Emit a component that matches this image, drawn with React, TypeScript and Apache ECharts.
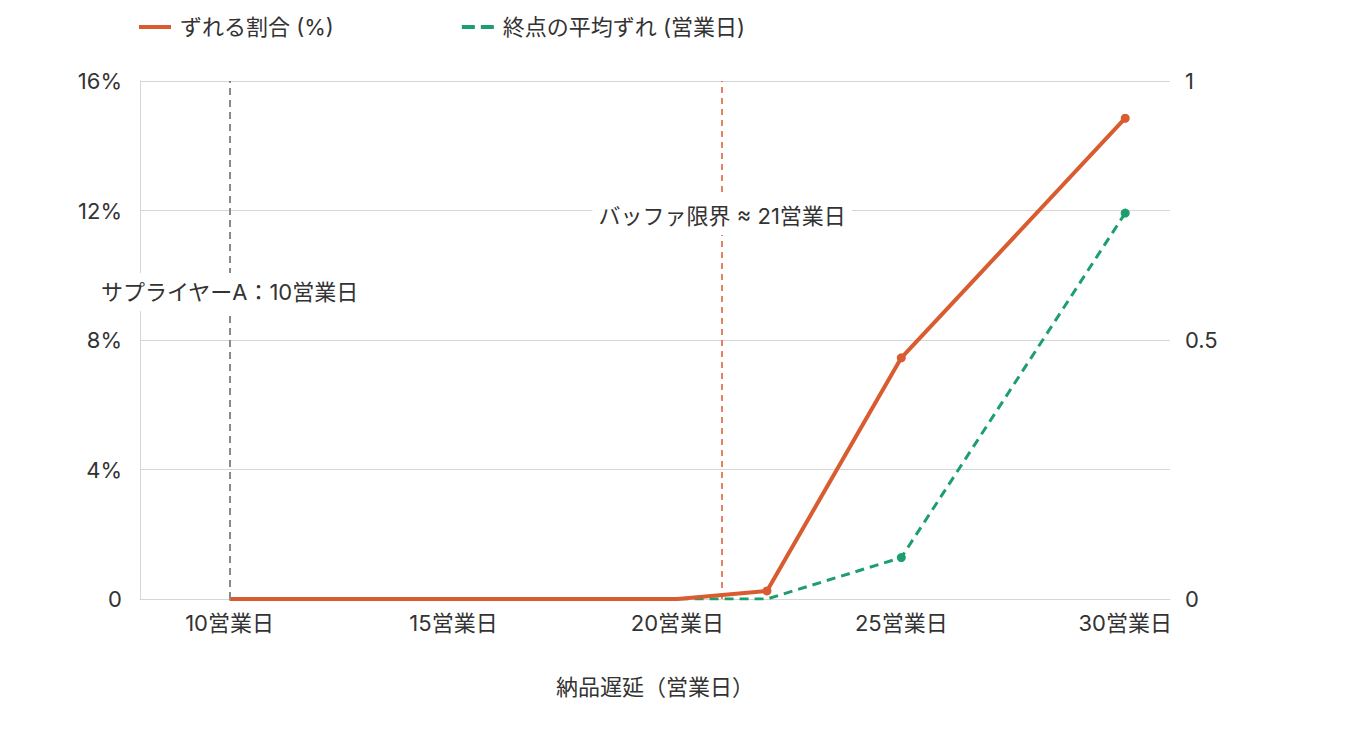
import React, { useEffect, useRef } from 'react';
import * as echarts from 'echarts';

// 納品遅延（営業日）ごとの値
const delayDays = [10, 15, 20, 22, 25, 30];
const slipShare = [0, 0, 0, 0.25, 7.45, 14.85]; // ずれる割合 (%)
const endSlip = [0, 0, 0, 0, 0.08, 0.745]; // 終点の平均ずれ (営業日)

const supplierDay = 10;
const bufferDay = 21;
const supplierLabel = 'サプライヤーA：10営業日';
const bufferLabel = 'バッファ限界 ≈ 21営業日';

const ORANGE = '#d95b30';
const GREEN = '#1c9e6e';
const FONT = 'Inter, "Noto Sans CJK JP", sans-serif';

const App: React.FC = () => {
  const chartRef = useRef<HTMLDivElement>(null);

  useEffect(() => {
    document.body.style.margin = '0';
    if (!chartRef.current) return;
    const chart = echarts.init(chartRef.current, undefined, { renderer: 'svg' });

    const pointSize = (v: number[]) => (v[1] > 0 ? 9 : 0);

    chart.setOption({
      animation: false,
      textStyle: { fontFamily: FONT, color: '#333' },
      legend: {
        left: 134,
        top: 11,
        itemWidth: 32,
        itemHeight: 4,
        itemGap: 128,
        textStyle: { fontSize: 22, color: '#333', padding: [0, 0, 0, 4] },
        data: [
          { name: 'ずれる割合 (%)', icon: 'path://M0,0H32V4H0Z' },
          { name: '終点の平均ずれ (営業日)', icon: 'path://M0,0H13V4H0ZM19,0H32V4H19Z' },
        ],
      },
      grid: { left: 140, right: 190, top: 81, bottom: 133 },
      xAxis: {
        type: 'value',
        min: 8,
        max: 31,
        interval: 1,
        name: '納品遅延（営業日）',
        nameLocation: 'middle',
        nameGap: 77,
        nameTextStyle: { fontSize: 22, color: '#333' },
        axisLine: { show: true, lineStyle: { color: '#d6d6d6' } },
        axisTick: { show: false },
        splitLine: { show: false },
        axisLabel: {
          fontSize: 22,
          color: '#333',
          margin: 13,
          formatter: (v: number) => (v % 5 === 0 ? `${v}営業日` : ''),
        },
      },
      yAxis: [
        {
          type: 'value',
          min: 0,
          max: 16,
          interval: 4,
          axisLine: { show: true, lineStyle: { color: '#d6d6d6' } },
          axisTick: { show: false },
          splitLine: { lineStyle: { color: '#d6d6d6' } },
          axisLabel: {
            fontSize: 22,
            color: '#333',
            margin: 18,
            formatter: (v: number) => (v === 0 ? '0' : `${v}%`),
          },
        },
        {
          type: 'value',
          min: 0,
          max: 1,
          interval: 0.5,
          axisLine: { show: false },
          axisTick: { show: false },
          splitLine: { show: false },
          axisLabel: { fontSize: 22, color: '#333', margin: 15 },
        },
      ],
      series: [
        {
          name: 'ずれる割合 (%)',
          type: 'line',
          yAxisIndex: 0,
          z: 3,
          data: delayDays.map((d, i) => [d, slipShare[i]]),
          symbol: 'circle',
          symbolSize: pointSize,
          lineStyle: { color: ORANGE, width: 4 },
          itemStyle: { color: ORANGE },
          markLine: {
            silent: true,
            symbol: 'none',
            label: { show: false },
            data: [
              { xAxis: supplierDay, lineStyle: { color: '#8a8a8a', type: [7, 5], width: 2 } },
              { xAxis: bufferDay, lineStyle: { color: ORANGE, type: [6, 5], width: 1.5 } },
            ],
          },
          markPoint: {
            silent: true,
            symbol: 'rect',
            symbolSize: 1,
            itemStyle: { color: 'rgba(0,0,0,0)' },
            label: {
              show: true,
              position: 'inside',
              fontSize: 22,
              color: '#333',
              fontFamily: FONT,
              backgroundColor: '#fff',
              padding: [8, 6],
            },
            data: [
              { coord: [supplierDay, 9.48], value: supplierLabel, label: { formatter: supplierLabel } },
              { coord: [bufferDay, 11.83], value: bufferLabel, label: { formatter: bufferLabel } },
            ],
          },
        },
        {
          name: '終点の平均ずれ (営業日)',
          type: 'line',
          yAxisIndex: 1,
          z: 2,
          data: delayDays.map((d, i) => [d, endSlip[i]]),
          symbol: 'circle',
          symbolSize: pointSize,
          lineStyle: { color: GREEN, width: 3, type: [9, 6] },
          itemStyle: { color: GREEN },
        },
      ],
    });

    return () => {
      chart.dispose();
    };
  }, []);

  return <div ref={chartRef} style={{ width: 1360, height: 732 }} />;
};

export default App;
